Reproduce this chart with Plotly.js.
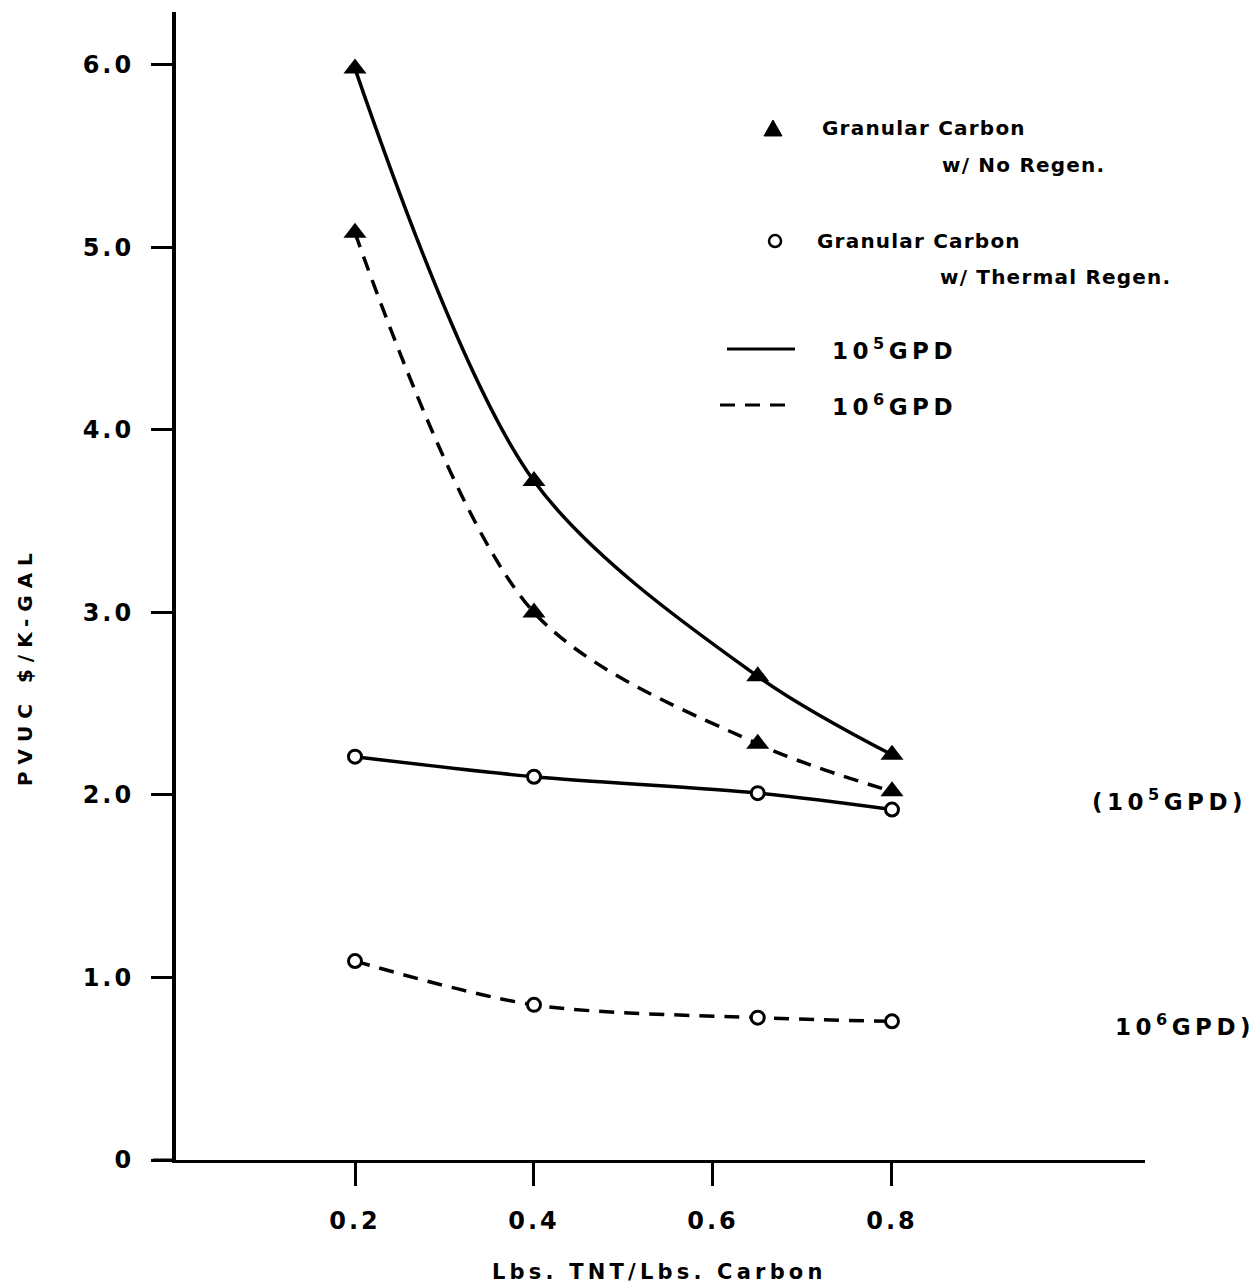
<!DOCTYPE html>
<html>
<head>
<meta charset="utf-8">
<script src="https://cdn.plot.ly/plotly-3.0.1.min.js"></script>
<style>
  html, body { margin: 0; padding: 0; background: #fff; }
  #chart { width: 1255px; height: 1286px; }
  #chart .xtick text, #chart .ytick text { letter-spacing: 3px; }
</style>
</head>
<body>
<div id="chart"></div>
<script>
// Data
const xValues = [0.2, 0.4, 0.65, 0.8];
const noRegen1e5 = [5.98, 3.72, 2.65, 2.22];
const noRegen1e6 = [5.08, 3.00, 2.28, 2.02];
const thermal1e5 = [2.21, 2.10, 2.01, 1.92];
const thermal1e6 = [1.09, 0.85, 0.78, 0.76];

const xTicks = [0.2, 0.4, 0.6, 0.8];
const xTickText = ['0.2', '0.4', '0.6', '0.8'];
const yTicks = [0, 1, 2, 3, 4, 5, 6];
const yTickText = ['0', '1.0', '2.0', '3.0', '4.0', '5.0', '6.0'];

const FONT = 'DejaVu Sans, Liberation Sans, sans-serif';
const DASH = '15px,10px';

function series(y, dash, symbol, filled) {
  return {
    x: xValues, y: y, type: 'scatter', mode: 'lines+markers',
    line: { color: '#000', width: 3.5, dash: dash, shape: 'spline', smoothing: 0.9 },
    marker: {
      symbol: symbol,
      size: filled ? 20 : 13,
      color: filled ? '#000' : '#fff',
      line: { color: '#000', width: filled ? 0 : 3 }
    },
    showlegend: false, hoverinfo: 'x+y'
  };
}

const traces = [
  series(noRegen1e5, 'solid', 'triangle-up', true),
  series(noRegen1e6, DASH, 'triangle-up', true),
  series(thermal1e5, 'solid', 'circle', false),
  series(thermal1e6, DASH, 'circle', false)
];

function f(size) { return { family: FONT, size: size, color: '#000', weight: 'bold' }; }

// annotation texts with their letter spacing (px)
const annSpec = [
  { x: 0.6646, y: 0.8990, text: 'Granular Carbon', size: 20, sp: 1.2 },
  { x: 0.7884, y: 0.8667, text: 'w/ No Regen.', size: 20, sp: 1.2 },
  { x: 0.6594, y: 0.8005, text: 'Granular Carbon', size: 20, sp: 1.2 },
  { x: 0.7864, y: 0.7692, text: 'w/ Thermal Regen.', size: 20, sp: 1.2 },
  { x: 0.6749, y: 0.7064, text: '10<sup>5</sup>GPD', size: 23, sp: 4.5 },
  { x: 0.6749, y: 0.6577, text: '10<sup>6</sup>GPD', size: 23, sp: 4.5 },
  { x: 0.9432, y: 0.3136, text: '(10<sup>5</sup>GPD)', size: 23, sp: 4.5 },
  { x: 0.9670, y: 0.1176, text: '10<sup>6</sup>GPD)', size: 23, sp: 4.5 },
  { x: 0.3240, y: -0.0975, text: 'Lbs. TNT/Lbs. Carbon', size: 21, sp: 4.2 }
];

const annotations = annSpec.map(a => ({
  xref: 'paper', yref: 'paper', x: a.x, y: a.y, xanchor: 'left', yanchor: 'middle',
  align: 'left', text: a.text, showarrow: false, font: f(a.size)
}));
// y-axis title (rotated)
annotations.push({
  xref: 'paper', yref: 'paper', x: -0.1558, y: 0.324, xanchor: 'center', yanchor: 'bottom',
  align: 'left', textangle: -90, text: 'PVUC $/K-GAL', showarrow: false, font: f(20)
});
const annSpacing = annSpec.map(a => a.sp).concat([7]);

const layout = {
  width: 1255, height: 1286,
  margin: { l: 176, r: 110, t: 12, b: 126 },
  paper_bgcolor: '#fff', plot_bgcolor: '#fff',
  font: { family: FONT, color: '#000' },
  xaxis: {
    range: [0, 1.0827],
    tickvals: xTicks, ticktext: xTickText,
    ticks: 'outside', ticklen: 23, tickwidth: 3, tickcolor: '#000',
    ticklabelstandoff: 14,
    showline: true, linecolor: '#000', linewidth: 3,
    showgrid: false, zeroline: false,
    tickfont: f(24)
  },
  yaxis: {
    range: [0, 6.29],
    tickvals: yTicks, ticktext: yTickText,
    ticks: 'outside', ticklen: 21, tickwidth: 3, tickcolor: '#000',
    ticklabelstandoff: 12,
    showline: true, linecolor: '#000', linewidth: 4,
    showgrid: false, zeroline: false,
    tickfont: f(24)
  },
  shapes: [
    // x-axis line continues left of the y axis
    { type: 'line', xref: 'paper', yref: 'paper', x0: -0.0237, x1: 0, y0: 0, y1: 0, line: { color: '#000', width: 3 } },
    // legend: line samples
    { type: 'line', xref: 'paper', yref: 'paper', x0: 0.5686, x1: 0.6388, y0: 0.7064, y1: 0.7064, line: { color: '#000', width: 3 } },
    { type: 'line', xref: 'paper', yref: 'paper', x0: 0.5614, x1: 0.6336, y0: 0.6577, y1: 0.6577, line: { color: '#000', width: 3, dash: DASH } },
    // legend: triangle symbol
    { type: 'path', xref: 'paper', yref: 'paper', path: 'M 0.6161 0.9059 L 0.6254 0.8920 L 0.6068 0.8920 Z', fillcolor: '#000', line: { color: '#000', width: 1 } },
    // legend: open circle symbol
    { type: 'circle', xref: 'paper', yref: 'paper', x0: 0.6120, x1: 0.6244, y0: 0.7953, y1: 0.8057, fillcolor: '#fff', line: { color: '#000', width: 2.5 } }
  ],
  annotations: annotations
};

Plotly.newPlot('chart', traces, layout, { staticPlot: true, displayModeBar: false }).then(gd => {
  const texts = gd.querySelectorAll('.annotation-text');
  texts.forEach((t, i) => {
    if (annSpacing[i] !== undefined) t.style.letterSpacing = annSpacing[i] + 'px';
  });
});
</script>
</body>
</html>
